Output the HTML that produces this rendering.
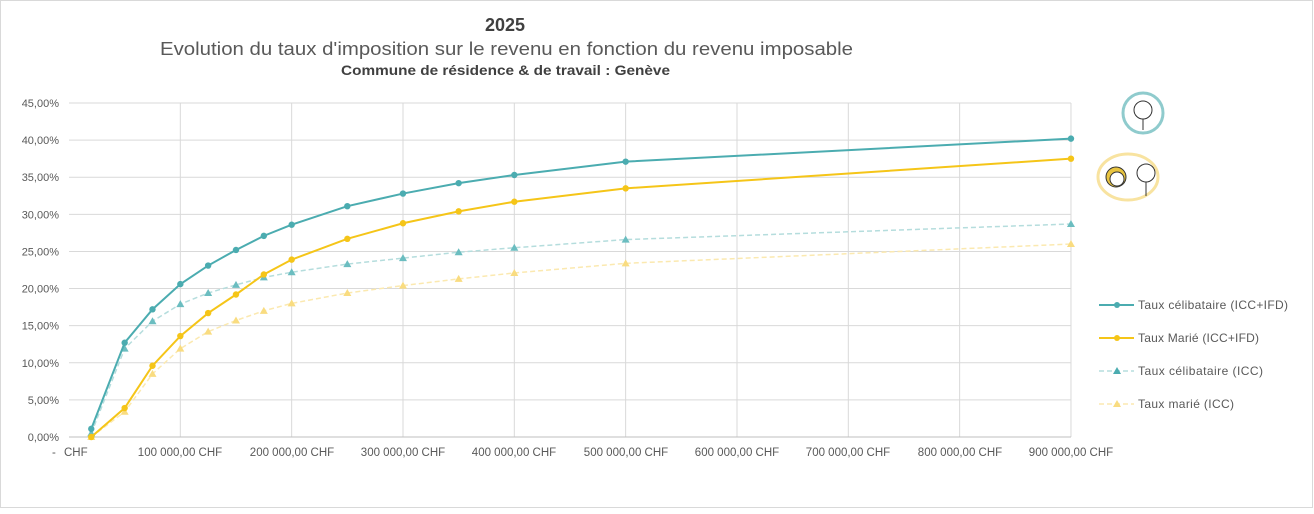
<!DOCTYPE html>
<html><head><meta charset="utf-8"><style>
body{margin:0;background:#fff}
svg text{font-family:"Liberation Sans",sans-serif;fill:#595959}
</style></head><body>
<svg id="s" width="1314" height="509" xmlns="http://www.w3.org/2000/svg">
<rect x="0.5" y="0.5" width="1312" height="507" fill="#fff" stroke="#d9d9d9"/>
<text x="485" y="31" font-size="18" font-weight="bold" textLength="40" style="fill:#404040">2025</text>
<text x="160" y="55" font-size="18" textLength="693" lengthAdjust="spacingAndGlyphs">Evolution du taux d'imposition sur le revenu en fonction du revenu imposable</text>
<text x="341" y="75" font-size="14" font-weight="bold" textLength="329" lengthAdjust="spacingAndGlyphs" style="fill:#404040">Commune de résidence &amp; de travail : Genève</text>
<g id="grid" stroke="#d9d9d9" stroke-width="1"></g>
<g font-size="11" id="ylab"></g>
<g font-size="11.5">
<text x="52" y="456">-</text><text x="64" y="456">CHF</text>
<text x="180" y="456" text-anchor="middle">100 000,00 CHF</text>
<text x="292" y="456" text-anchor="middle">200 000,00 CHF</text>
<text x="403" y="456" text-anchor="middle">300 000,00 CHF</text>
<text x="514" y="456" text-anchor="middle">400 000,00 CHF</text>
<text x="626" y="456" text-anchor="middle">500 000,00 CHF</text>
<text x="737" y="456" text-anchor="middle">600 000,00 CHF</text>
<text x="848" y="456" text-anchor="middle">700 000,00 CHF</text>
<text x="960" y="456" text-anchor="middle">800 000,00 CHF</text>
<text x="1071" y="456" text-anchor="middle">900 000,00 CHF</text>
</g>
<g id="series"></g>
<g font-size="12">
<line x1="1099" y1="305" x2="1134" y2="305" stroke="#4BACB0" stroke-width="2"/><circle cx="1117" cy="305" r="3" fill="#4BACB0"/>
<text x="1138" y="309" textLength="150">Taux célibataire (ICC+IFD)</text>
<line x1="1099" y1="338" x2="1134" y2="338" stroke="#F5C518" stroke-width="2"/><circle cx="1117" cy="338" r="3" fill="#F5C518"/>
<text x="1138" y="342" textLength="121">Taux Marié (ICC+IFD)</text>
<line x1="1099" y1="371" x2="1134" y2="371" stroke="#B5DDDD" stroke-width="1.5" stroke-dasharray="5,3"/><path d="M1117 367 L1121 374 L1113 374Z" fill="#4BACB0"/>
<text x="1138" y="375" textLength="125">Taux célibataire (ICC)</text>
<line x1="1099" y1="404" x2="1134" y2="404" stroke="#FBE9B0" stroke-width="1.5" stroke-dasharray="5,3"/><path d="M1117 400 L1121 407 L1113 407Z" fill="#F9DC80"/>
<text x="1138" y="408" textLength="96">Taux marié (ICC)</text>
</g>
<circle cx="1143" cy="113" r="20" fill="#fff" stroke="#8FCBCD" stroke-width="3"/>
<circle cx="1143" cy="110" r="9" fill="none" stroke="#333"/><line x1="1143" y1="119" x2="1143" y2="130" stroke="#333"/>
<ellipse cx="1128" cy="177" rx="30" ry="23" fill="#fff" stroke="#F8E3A0" stroke-width="3"/>
<circle cx="1116" cy="177" r="10" fill="#E8C440" stroke="#333"/><circle cx="1117" cy="179" r="7" fill="#fff" stroke="#333"/>
<circle cx="1146" cy="173" r="9" fill="none" stroke="#333"/><line x1="1146" y1="182" x2="1146" y2="196" stroke="#333"/>
</svg>
<script>
var X=function(v){return 69+v*0.0011133},Y=function(p){return 437-p*7.422};
var g=document.getElementById('grid'),yl=document.getElementById('ylab'),ns='http://www.w3.org/2000/svg';
function el(t,a,p){var e=document.createElementNS(ns,t);for(var k in a)e.setAttribute(k,a[k]);p.appendChild(e);return e}
for(var i=0;i<=9;i++){var y=Y(i*5);el('line',{x1:69,x2:1071,y1:y,y2:y},g);
var t=el('text',{x:59,y:y+4,'text-anchor':'end'},yl);t.textContent=(i*5)+',00%';}
for(var i=1;i<=9;i++){var x=X(i*100000);el('line',{x1:x,x2:x,y1:Y(45),y2:437},g);}
el('line',{x1:69,x2:1071,y1:437,y2:437,stroke:'#bfbfbf'},g);
var xs=[20000,50000,75000,100000,125000,150000,175000,200000,250000,300000,350000,400000,500000,900000];
var S=[
{d:[0,3.4,8.5,11.9,14.2,15.7,17.0,18.0,19.4,20.4,21.3,22.1,23.4,26.0],c:'#FBE9B0',m:'#F9DC80',dash:1},
{d:[0.5,11.9,15.6,17.9,19.4,20.5,21.5,22.2,23.3,24.1,24.9,25.5,26.6,28.7],c:'#B5DDDD',m:'#6BBDC0',dash:1},
{d:[0,3.9,9.6,13.6,16.7,19.2,21.9,23.9,26.7,28.8,30.4,31.7,33.5,37.5],c:'#F5C518',m:'#F5C518'},
{d:[1.1,12.7,17.2,20.6,23.1,25.2,27.1,28.6,31.1,32.8,34.2,35.3,37.1,40.2],c:'#4BACB0',m:'#4BACB0'}];
var sg=document.getElementById('series');
S.forEach(function(s){var pts=s.d.map(function(p,i){return X(xs[i])+','+Y(p)}).join(' ');
var a={points:pts,fill:'none',stroke:s.c,'stroke-width':s.dash?1.5:2};if(s.dash)a['stroke-dasharray']='5,3';el('polyline',a,sg);
s.d.forEach(function(p,i){var x=X(xs[i]),y=Y(p);if(s.dash)el('path',{d:'M'+x+' '+(y-4)+'L'+(x+4)+' '+(y+3)+'L'+(x-4)+' '+(y+3)+'Z',fill:s.m},sg);else el('circle',{cx:x,cy:y,r:3.2,fill:s.m},sg);});});
</script>
</body></html>
